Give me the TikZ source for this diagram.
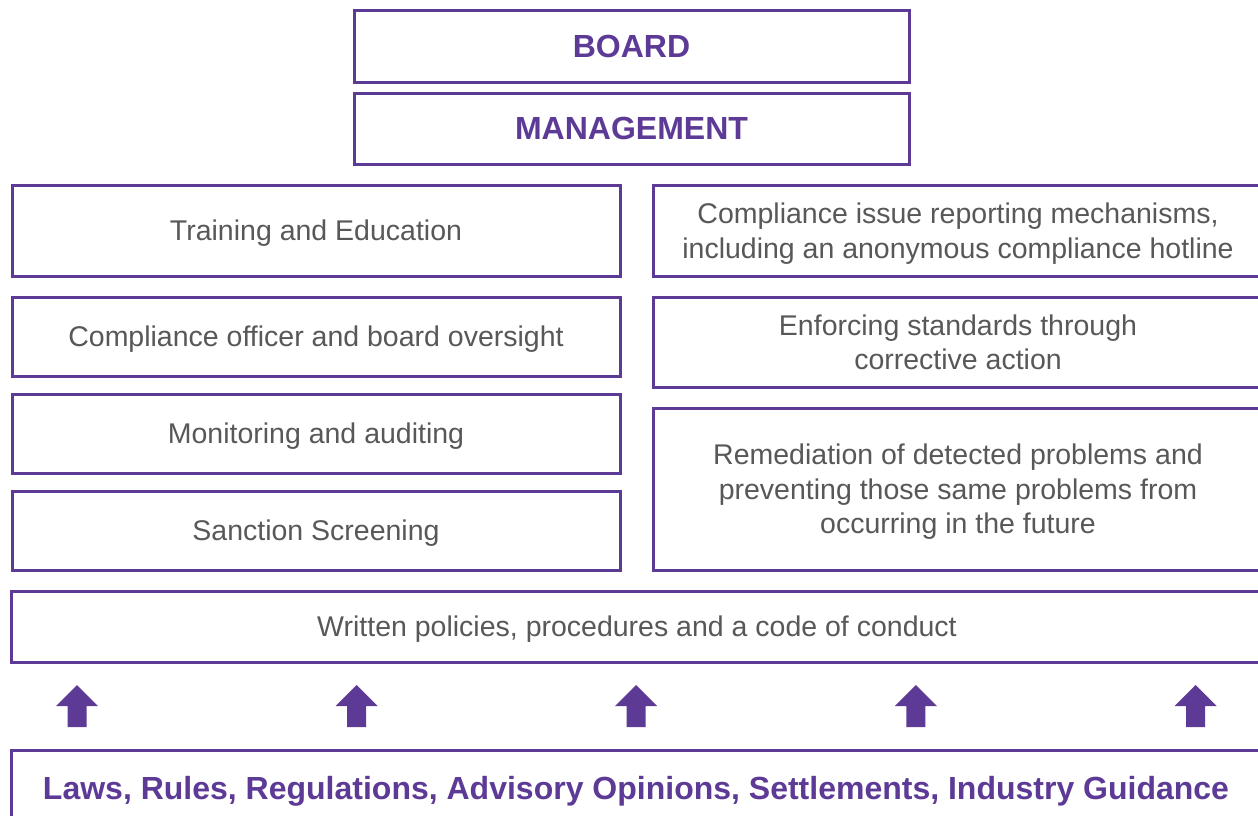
\documentclass[tikz,border=0pt]{standalone}
\usepackage{fontspec}
\setmainfont{Liberation Sans}
\definecolor{purp}{HTML}{5C3A96}
\definecolor{txtgray}{HTML}{58585A}
\tikzset{
  box/.style={draw=purp, line width=3pt, fill=white, inner sep=0pt, align=center,
    text=txtgray, text depth=-3pt, font=\fontsize{28.5}{34.5}\selectfont},
  titlebox/.style={box, text=purp, text depth=-4pt, font=\fontsize{32}{38}\selectfont\bfseries},
  uparrow/.pic={\fill[purp] (-9.5,0) -- (-9.5,-21) -- (-21,-21) -- (0,-42) -- (21,-21) -- (9.5,-21) -- (9.5,0) -- cycle;}
}
\begin{document}
\begin{tikzpicture}[x=1pt,y=-1pt]
\useasboundingbox (0,0) rectangle (1258,816);
\clip (0,0) rectangle (1258,816);
\node[titlebox, minimum width=555pt, minimum height=71pt] (board) at (631.5,46.5) {BOARD};
\node[titlebox, minimum width=555pt, minimum height=71pt] (mgmt) at (631.5,128.5) {MANAGEMENT};
\node[box, minimum width=608pt, minimum height=91pt] (train) at (316,230.5) {Training and Education};
\node[box, minimum width=608pt, minimum height=79pt] (officer) at (316,336.5) {Compliance officer and board oversight};
\node[box, minimum width=608pt, minimum height=79pt] (monitor) at (316,433.5) {Monitoring and auditing};
\node[box, minimum width=608pt, minimum height=79pt] (sanction) at (316,530.5) {Sanction Screening};
\node[box, minimum width=610pt, minimum height=91pt] (report) at (958,230.5) {Compliance issue reporting mechanisms,\\including an anonymous compliance hotline};
\node[box, minimum width=610pt, minimum height=90pt] (enforce) at (958,342) {Enforcing standards through\\corrective action};
\node[box, minimum width=610pt, minimum height=162pt] (remed) at (958,489) {Remediation of detected problems and\\preventing those same problems from\\occurring in the future};
\node[box, minimum width=1252pt, minimum height=71pt] (written) at (637,626.5) {Written policies, procedures and a code of conduct};
\node[titlebox, text depth=0pt, minimum width=1250pt, minimum height=76pt] (laws) at (636,788) {Laws, Rules, Regulations, Advisory Opinions, Settlements, Industry Guidance};
\foreach \cx in {77,356.6,636.2,915.9,1195.5}
  \pic at (\cx,727) {uparrow};
\end{tikzpicture}
\end{document}
